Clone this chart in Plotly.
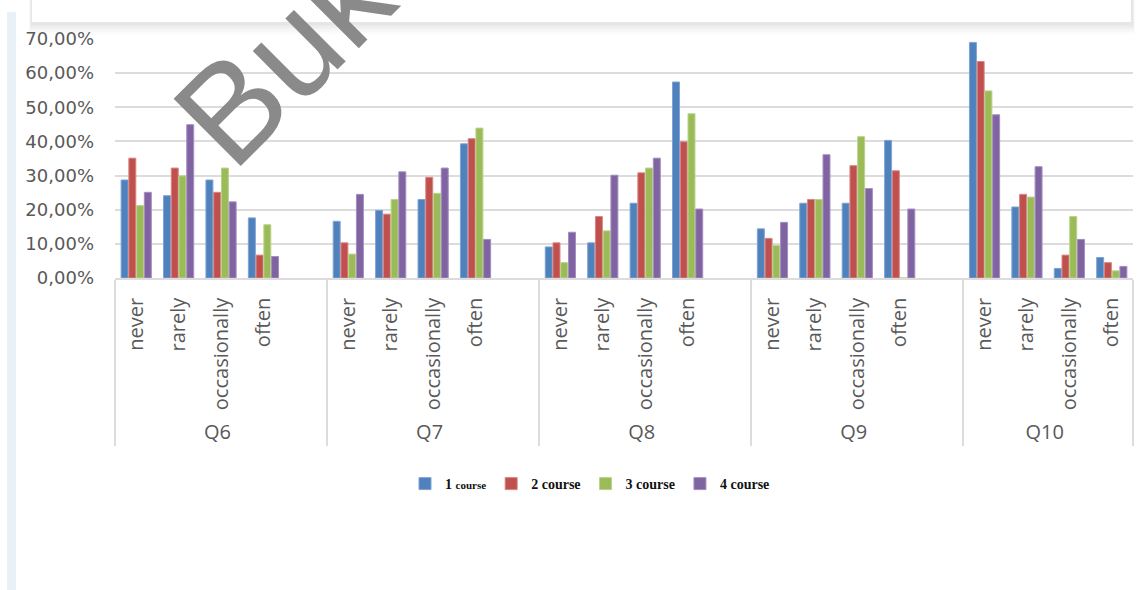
import plotly.graph_objects as go

# Survey answers per question, share of respondents (%) by year of study
questions = ["Q6", "Q7", "Q8", "Q9", "Q10"]
answers = ["never", "rarely", "occasionally", "often"]

course_1 = [28.7, 24.1, 28.7, 17.6,
            16.6, 19.8, 23.0, 39.3,
            9.1, 10.3, 21.9, 57.4,
            14.4, 21.9, 21.9, 40.3,
            69.0, 20.8, 2.8, 6.0]
course_2 = [35.1, 32.2, 25.1, 6.7,
            10.3, 18.7, 29.5, 40.8,
            10.3, 18.0, 30.8, 39.9,
            11.6, 23.0, 32.9, 31.4,
            63.4, 24.5, 6.7, 4.5]
course_3 = [21.2, 29.9, 32.2, 15.6,
            7.0, 23.0, 24.8, 43.9,
            4.5, 13.8, 32.2, 48.1,
            9.5, 23.0, 41.4, 0.0,
            54.8, 23.7, 18.0, 2.1]
course_4 = [25.1, 44.9, 22.3, 6.3,
            24.5, 31.1, 32.2, 11.3,
            13.4, 30.1, 35.1, 20.2,
            16.3, 36.1, 26.2, 20.2,
            47.8, 32.6, 11.3, 3.4]

series_names = ["1 <span style='font-size:11px'>course</span>",
                "2 course", "3 course", "4 course"]
series_values = [course_1, course_2, course_3, course_4]
colors = ["#4F81BD", "#C0504D", "#9BBB59", "#8064A2"]
edge_colors = ["#7FA3D3", "#D88482", "#B9D38A", "#A48DC0"]

# Page geometry (pixels)
W, H = 1145, 590
ML, MR, MT = 115, 12, 39
PLOT_BOTTOM = 278
MB = H - PLOT_BOTTOM
PW = W - ML - MR
PH = PLOT_BOTTOM - MT


def px(x):
    return (x - ML) / PW


def py(y):
    return (PLOT_BOTTOM - y) / PH


# Two-level category axis; an empty slot separates consecutive questions
outer, inner = [], []
slot_index = []
for qi, q in enumerate(questions):
    for ai, a in enumerate(answers):
        outer.append(q)
        inner.append(a)
        slot_index.append(qi * len(answers) + ai)
    if qi < len(questions) - 1:
        outer.append(q)
        inner.append(" ")
        slot_index.append(None)

fig = go.Figure()
for name, vals, col, edge in zip(series_names, series_values, colors, edge_colors):
    y = [None if i is None else vals[i] for i in slot_index]
    fig.add_trace(go.Bar(
        x=[outer, inner], y=y, name=name,
        marker=dict(color=col, line=dict(color=edge, width=1)),
    ))

grid_col = "#DCDCDC"
text_col = "#595959"

fig.update_layout(
    width=W, height=H,
    margin=dict(l=ML, r=MR, t=MT, b=MB, pad=0),
    paper_bgcolor="white", plot_bgcolor="white",
    separators=",.",
    barmode="group", bargap=0.27, bargroupgap=0.1,
    font=dict(family="Open Sans", color=text_col, size=20),
    showlegend=True,
    legend=dict(
        orientation="h", x=px(590), xanchor="center", y=py(484), yanchor="middle",
        font=dict(family="Liberation Serif", size=14, color="#111111", weight="bold"),
        itemwidth=30, tracegroupgap=0,
    ),
    xaxis=dict(
        type="multicategory", range=[-0.5, 23.5],
        tickangle=-90, showgrid=False, ticks="",
        showline=True, linecolor=grid_col, linewidth=1.5,
        showdividers=True, dividercolor=grid_col, dividerwidth=1.5,
        ticklabelstandoff=10,
        tickfont=dict(family="Open Sans", size=20, color=text_col),
    ),
    yaxis=dict(
        range=[0, 70], dtick=10, tickformat=".2f", ticksuffix="%",
        showgrid=True, gridcolor=grid_col, gridwidth=1.5,
        zeroline=False, showline=False, ticks="",
        ticklabelstandoff=20,
        tickfont=dict(family="DejaVu Sans", size=18, color=text_col),
    ),
)

# Page decorations: left border stripe, floating card with a soft shadow
shapes = [
    dict(type="rect", xref="paper", yref="paper",
         x0=px(7), x1=px(16), y0=py(590), y1=py(12),
         fillcolor="#EAF0F7", line=dict(width=0), layer="above"),
]
for k, op in enumerate([0.025, 0.03, 0.035, 0.04, 0.045]):
    shapes.append(dict(type="rect", xref="paper", yref="paper",
                       x0=px(31 - 2 + k * 0.5), x1=px(1133 + 2 - k * 0.5),
                       y0=py(34 - 2.2 * k), y1=py(-5),
                       fillcolor=f"rgba(110,110,110,{op})", line=dict(width=0),
                       layer="above"))
shapes.append(dict(type="rect", xref="paper", yref="paper",
                   x0=px(32), x1=px(1131), y0=py(22), y1=py(-5),
                   fillcolor="white", line=dict(width=0), layer="above"))
fig.update_layout(shapes=shapes)

fig.add_annotation(
    text="Buk", xref="paper", yref="paper",
    x=px(283), y=py(56), xanchor="center", yanchor="middle",
    showarrow=False, textangle=-45,
    font=dict(family="Liberation Sans", size=138, color="rgba(132,132,132,0.95)"),
)

fig.write_html("out.html")
